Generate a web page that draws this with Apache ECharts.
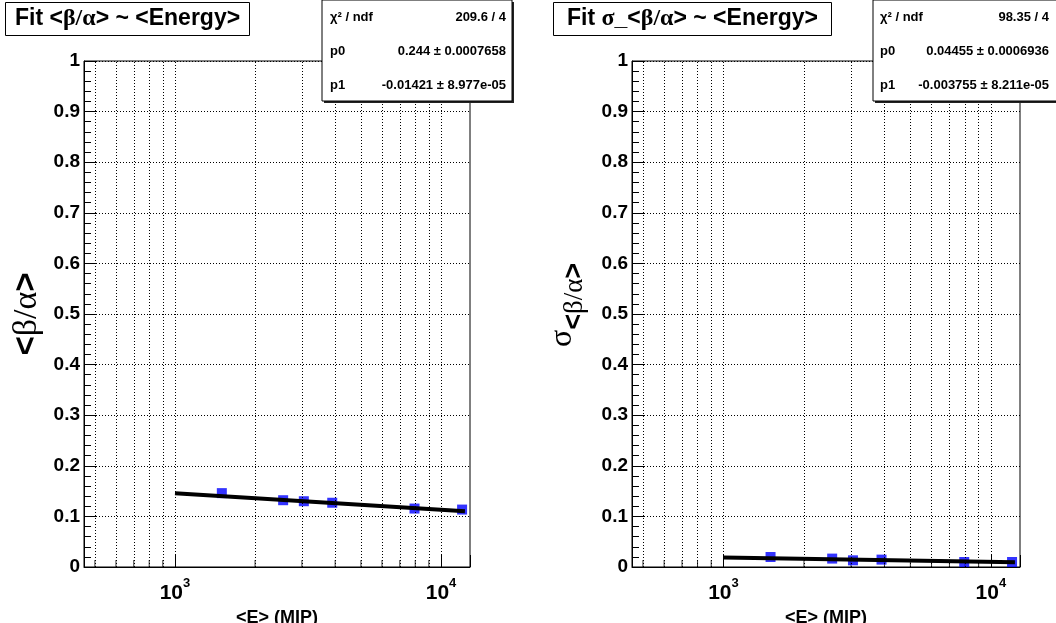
<!DOCTYPE html>
<html><head><meta charset="utf-8">
<script src="https://cdn.jsdelivr.net/npm/echarts@6/dist/echarts.min.js"></script>
<style>html,body{margin:0;padding:0;background:#fff}#c{width:1056px;height:623px}</style>
</head><body><div id="c"></div>
<script>
// ---- data ----
const energy = [1500, 2550, 3050, 3900, 7950, 12000];
const meanRatio = [0.146, 0.132, 0.130, 0.127, 0.1155, 0.1135];
const sigmaRatio = [0.0198, 0.0166, 0.0132, 0.0146, 0.0099, 0.0099];
const fitEnergy = [1000, 12300];
const meanFit = [0.1458, 0.1103];
const sigmaFit = [0.0186, 0.0092];
const xGridValues = [500, 600, 700, 800, 900, 1000, 2000, 3000, 4000, 5000, 6000, 7000, 8000, 9000, 10000];
const xMinorTicks = [500, 600, 700, 800, 900, 2000, 3000, 4000, 5000, 6000, 7000, 8000, 9000];
const leftStats = [['χ² / ndf', '209.6 / 4'], ['p0', '0.244 ± 0.0007658'], ['p1', '-0.01421 ± 8.977e-05']];
const rightStats = [['χ² / ndf', '98.35 / 4'], ['p0', '0.04455 ± 0.0006936'], ['p1', '-0.003755 ± 8.211e-05']];

const SANS = "'Liberation Sans', Arial, sans-serif";
const SANSN = "'Liberation Sans Narrow', 'Liberation Sans', Arial, sans-serif";
const SERIF = "'Liberation Serif', 'DejaVu Serif', serif";

function xAxisCfg(gi) {
  return {
    type: 'log', logBase: 10, gridIndex: gi, min: 455, max: 12850,
    axisLine: { show: true, onZero: false, lineStyle: { color: '#000', width: 1 } },
    axisTick: { show: true, inside: true, length: 12, lineStyle: { color: '#000' } },
    splitLine: { show: false },
    minorTick: { show: false },
    axisLabel: {
      interval: 0, margin: 10,
      formatter: v => { const e = Math.log10(v); const r = Math.round(e); return Math.abs(e - r) < 1e-6 ? '{b|10}{s|' + r + '}' : ''; },
      rich: {
        b: { fontSize: 21, fontWeight: 'bold', fontFamily: SANSN, color: '#000', padding: [6, 0, 0, 0], verticalAlign: 'top' },
        s: { fontSize: 13, fontWeight: 'bold', fontFamily: SANSN, color: '#000', verticalAlign: 'top' }
      }
    },
    name: '<E> (MIP)', nameLocation: 'middle', nameGap: 29,
    nameTextStyle: { fontSize: 18, fontWeight: 'bold', fontFamily: SANS, color: '#000' }
  };
}
function yAxisCfg(gi, name, rich, gap) {
  return {
    type: 'value', gridIndex: gi, min: 0, max: 1, interval: 0.1,
    axisLine: { show: true, onZero: false, lineStyle: { color: '#000', width: 1 } },
    axisTick: { show: true, inside: true, length: 12, lineStyle: { color: '#000' } },
    minorTick: { show: true, splitNumber: 5, length: 7, lineStyle: { color: '#000' } },
    splitLine: { show: true, lineStyle: { color: '#000', type: [1, 2], width: 1 } },
    axisLabel: { margin: 4, fontSize: 19, fontWeight: 'bold', fontFamily: SANSN, color: '#000' },
    name: name, nameLocation: 'middle', nameGap: gap, nameRotate: 90,
    nameTextStyle: { rich: rich }
  };
}
function panelSeries(gi, values, fit) {
  return [
    {
      type: 'scatter', xAxisIndex: gi, yAxisIndex: gi, silent: true, z: 1,
      data: xMinorTicks.map(v => [v, 0]),
      symbol: 'rect', symbolSize: [1, 7], symbolOffset: [0, -3.5],
      itemStyle: { color: '#000' },
      markLine: {
        silent: true, symbol: ['none', 'none'], label: { show: false },
        lineStyle: { color: '#000', type: [1, 2], width: 1 },
        data: xGridValues.map(v => ({ xAxis: v })), animation: false
      }
    },
    {
      type: 'scatter', xAxisIndex: gi, yAxisIndex: gi, z: 3,
      data: energy.map((e, i) => [e, values[i]]),
      symbol: 'rect', symbolSize: 10, itemStyle: { color: '#0000ff' }
    },
    {
      type: 'line', xAxisIndex: gi, yAxisIndex: gi, z: 4,
      data: fitEnergy.map((e, i) => [e, fit[i]]),
      showSymbol: false, symbol: 'none',
      lineStyle: { color: '#000', width: 4 }
    }
  ];
}
function statsBox(x0, labelX, valueX, rows) {
  const els = [
    { type: 'rect', z: 100, shape: { x: x0 + 2, y: 2, width: 190, height: 101 }, style: { fill: '#222' }, silent: true },
    { type: 'rect', z: 101, shape: { x: x0, y: 0, width: 190, height: 101 }, style: { fill: '#fff', stroke: '#000', lineWidth: 1 }, silent: true }
  ];
  rows.forEach((r, i) => {
    const y = 17 + 34 * i;
    els.push({ type: 'text', z: 102, x: labelX, y: y, style: { text: r[0], font: 'bold 13px ' + SANS, fill: '#000', align: 'left', verticalAlign: 'middle' } });
    els.push({ type: 'text', z: 102, x: valueX, y: y, style: { text: r[1], font: 'bold 13px ' + SANS, fill: '#000', align: 'right', verticalAlign: 'middle' } });
  });
  return els;
}

const titleRich = {
  a: { fontSize: 23, fontWeight: 'bold', fontFamily: SANS, color: '#000' },
  g: { fontSize: 24, fontFamily: SERIF, color: '#000' }
};
const leftNameRich = {
  a: { fontSize: 33, fontWeight: 'bold', fontFamily: SANS, color: '#000' },
  g: { fontSize: 34, fontFamily: SERIF, color: '#000' }
};
const rightNameRich = {
  s: { fontSize: 32, fontFamily: SERIF, color: '#000', verticalAlign: 'top', padding: [0, 0, 0, 18] },
  a: { fontSize: 27, fontWeight: 'bold', fontFamily: SANS, color: '#000', verticalAlign: 'top', padding: [14, 0, 0, 0] },
  g: { fontSize: 27, fontFamily: SERIF, color: '#000', verticalAlign: 'top', padding: [14, 0, 0, 0] }
};

const chart = echarts.init(document.getElementById('c'), null, { renderer: 'canvas' });
chart.setOption({
  animation: false,
  backgroundColor: '#fff',
  title: [
    { text: '{a|Fit <}{g|β/α}{a|> ~ <Energy>}', left: 5, top: 2, padding: [5, 10], borderColor: '#000', borderWidth: 1, backgroundColor: '#fff', textStyle: { rich: titleRich } },
    { text: '{a|Fit }{g|σ}{a|_<}{g|β/α}{a|> ~ <Energy>}', left: 553, top: 2, padding: [5, 14], borderColor: '#000', borderWidth: 1, backgroundColor: '#fff', textStyle: { rich: titleRich } }
  ],
  grid: [
    { left: 84, right: 1056 - 470, top: 61, bottom: 623 - 567, containLabel: false, outerBoundsMode: 'none', show: true, borderColor: '#000', borderWidth: 1, backgroundColor: 'transparent' },
    { left: 632, right: 1056 - 1020, top: 61, bottom: 623 - 567, containLabel: false, outerBoundsMode: 'none', show: true, borderColor: '#000', borderWidth: 1, backgroundColor: 'transparent' }
  ],
  xAxis: [xAxisCfg(0), xAxisCfg(1)],
  yAxis: [
    yAxisCfg(0, '{a|<}{g|β/α}{a|>}', leftNameRich, 40),
    yAxisCfg(1, '{s|σ}{a|<}{g|β/α}{a|>}', rightNameRich, 44)
  ],
  series: [].concat(panelSeries(0, meanRatio, meanFit), panelSeries(1, sigmaRatio, sigmaFit)),
  graphic: { elements: [].concat(statsBox(322, 330, 506, leftStats), statsBox(873, 880, 1049, rightStats)) }
});
</script>
</body></html>
